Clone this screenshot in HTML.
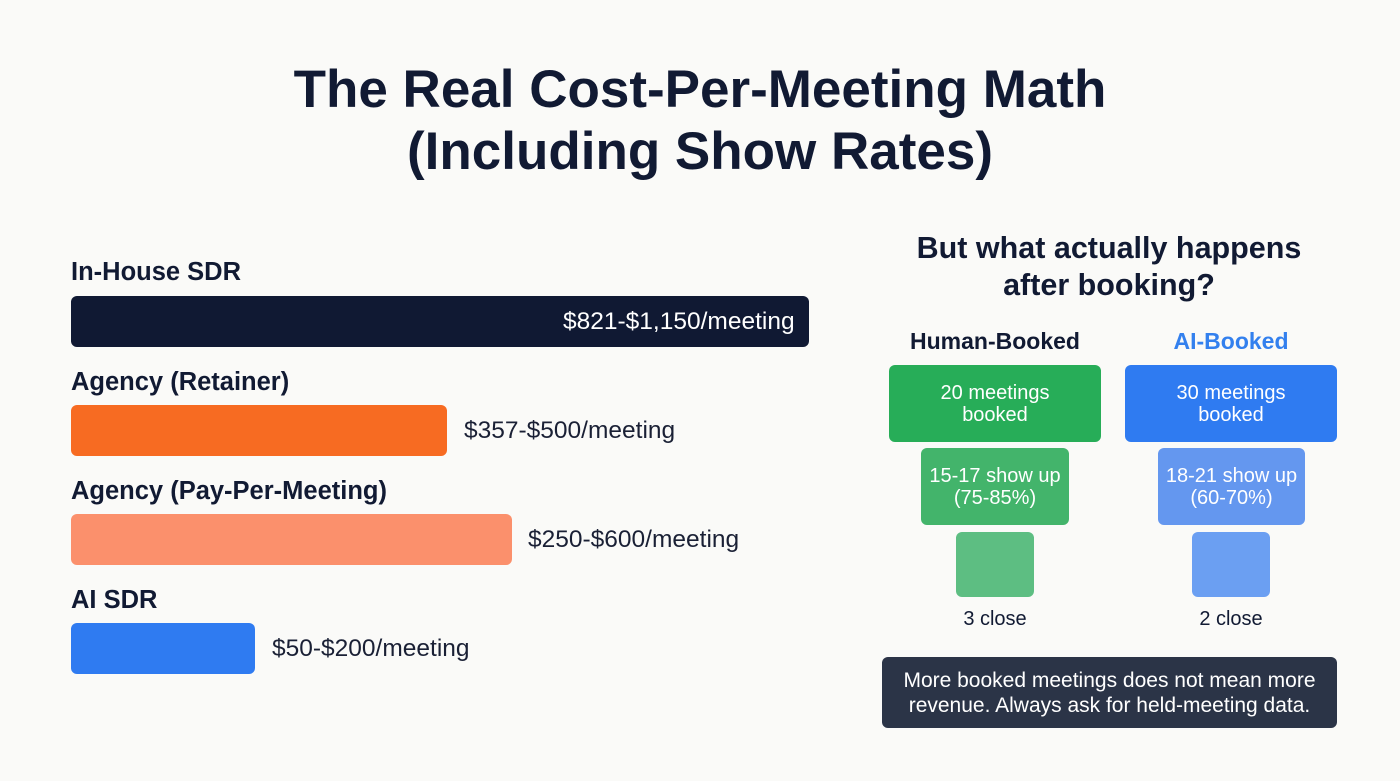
<!DOCTYPE html>
<html><head><style>
body{margin:0;width:1400px;height:781px;background:#fafaf8;font-family:"Liberation Sans",sans-serif;position:relative;overflow:hidden;color:#111a33}
div{position:absolute}
.t{left:0;width:1400px;text-align:center;font-weight:bold;font-size:53px;line-height:62px}
.lab{left:71px;font-weight:bold;font-size:25.5px;line-height:30px}
.bar{left:71px;height:51px;border-radius:6px}
.val{font-size:24.5px;line-height:51px;color:#1a2035}
.box{border-radius:6px;color:#fff;font-size:20px;line-height:22px;display:flex;align-items:center;justify-content:center;text-align:center}
.c{text-align:center;font-size:20px;width:200px}
</style></head><body>
<div class="t" style="top:59px">The Real Cost-Per-Meeting Math</div>
<div class="t" style="top:121px">(Including Show Rates)</div>

<div class="lab" style="top:257px">In-House SDR</div>
<div class="bar" style="top:296px;width:738px;background:#101933"></div>
<div class="val" style="top:296px;left:563px;color:#fff">$821-$1,150/meeting</div>
<div class="lab" style="top:367px">Agency (Retainer)</div>
<div class="bar" style="top:405px;width:376px;background:#f76b22"></div>
<div class="val" style="top:405px;left:464px">$357-$500/meeting</div>
<div class="lab" style="top:476px">Agency (Pay-Per-Meeting)</div>
<div class="bar" style="top:514px;width:441px;background:#fb906c"></div>
<div class="val" style="top:514px;left:528px">$250-$600/meeting</div>
<div class="lab" style="top:585px">AI SDR</div>
<div class="bar" style="top:623px;width:184px;background:#2f7bf1"></div>
<div class="val" style="top:623px;left:272px">$50-$200/meeting</div>

<div style="left:809px;width:600px;top:230px;text-align:center;font-weight:bold;font-size:30.5px;line-height:37px">But what actually happens<br>after booking?</div>
<div style="left:895px;width:200px;top:328px;text-align:center;font-weight:bold;font-size:23px">Human-Booked</div>
<div style="left:1131px;width:200px;top:328px;text-align:center;font-weight:bold;font-size:23px;color:#3380ee">AI-Booked</div>

<div class="box" style="left:889px;top:365px;width:212px;height:77px;background:#27ad58">20 meetings<br>booked</div>
<div class="box" style="left:1125px;top:365px;width:212px;height:77px;background:#2f7bf1">30 meetings<br>booked</div>
<div class="box" style="left:921px;top:448px;width:148px;height:77px;background:#43b46b">15-17 show up<br>(75-85%)</div>
<div class="box" style="left:1158px;top:448px;width:147px;height:77px;background:#6497ef">18-21 show up<br>(60-70%)</div>
<div class="box" style="left:956px;top:532px;width:78px;height:65px;background:#5dbe82"></div>
<div class="box" style="left:1192px;top:532px;width:78px;height:65px;background:#6b9ff2"></div>
<div class="c" style="left:895px;top:608px">3 close</div>
<div class="c" style="left:1131px;top:608px">2 close</div>

<div class="box" style="left:882px;top:657px;width:455px;height:71px;background:#2b3447;font-size:21px;line-height:25px">More booked meetings does not mean more<br>revenue. Always ask for held-meeting data.</div>
</body></html>
